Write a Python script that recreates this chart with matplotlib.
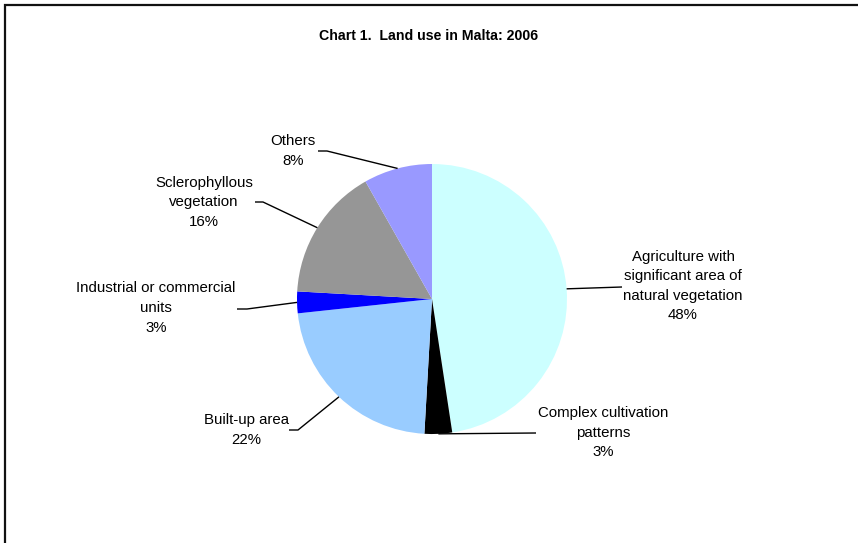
#!/usr/bin/env python3

import numpy as np
import matplotlib
import matplotlib.pyplot as plt
from matplotlib.lines import Line2D

matplotlib.use('Agg')

# Data
categories = [
    'Agriculture with\nsignificant area of\nnatural vegetation',
    'Complex cultivation\npatterns',
    'Built-up area',
    'Industrial or commercial\nunits',
    'Sclerophyllous\nvegetation',
    'Others',
]
shares = [47.6, 3.3, 22.4, 2.6, 15.9, 8.2]
pct_labels = ['48%', '3%', '22%', '3%', '16%', '8%']
colors = ['#CCFFFF', '#000000', '#99CCFF', '#0000FF', '#969696', '#9999FF']

plt.rcParams['font.family'] = ['Liberation Sans', 'DejaVu Sans']

W, H = 858, 543
fig = plt.figure(figsize=(W / 100, H / 100), dpi=100)
ax = fig.add_axes([0, 0, 1, 1])


def py(y):
    # pixel row (from top) -> data y
    return H - y


center = (432, py(299))
radius = 135

wedges, _ = ax.pie(shares, colors=colors, startangle=90, counterclock=False,
                   center=center, radius=radius, frame=True,
                   wedgeprops=dict(linewidth=0))
ax.set_xlim(0, W)
ax.set_ylim(0, H)
ax.set_aspect('equal')
ax.axis('off')

# leader-line elbows and label anchors (pixel layout)
leaders = [
    [(622, 287)],
    [(536, 433)],
    [(298, 430), (289, 430)],
    [(247, 309), (237, 309)],
    [(263, 202), (255, 202)],
    [(327, 151), (318, 151)],
]
label_pos = [
    (683, 286),
    (603, 433),
    (246, 430),
    (156, 308),
    (204, 202),
    (293, 151),
]

for w, pts, (lx, ly), cat, pct in zip(wedges, leaders, label_pos,
                                      categories, pct_labels):
    mid = np.deg2rad((w.theta1 + w.theta2) / 2)
    x0 = center[0] + radius * np.cos(mid)
    y0 = center[1] + radius * np.sin(mid)
    xs = [x0] + [p[0] for p in pts]
    ys = [y0] + [py(p[1]) for p in pts]
    ax.plot(xs, ys, color='black', linewidth=1.0, solid_capstyle='butt')
    ax.text(lx, py(ly), f'{cat}\n{pct}', ha='center', va='center',
            fontsize=10.8, linespacing=1.5, color='black')

ax.text(W / 2, py(36), 'Chart 1.  Land use in Malta: 2006', ha='center',
        va='center', fontsize=10.2, fontweight='bold')

# outer frame: only the top and left edges fall inside the picture
ax.add_line(Line2D([5, 5, W + 10], [-10, py(5), py(5)], color='#111111',
                   linewidth=1.6, solid_joinstyle='miter', clip_on=False))

fig.savefig('out.png', dpi=100)
